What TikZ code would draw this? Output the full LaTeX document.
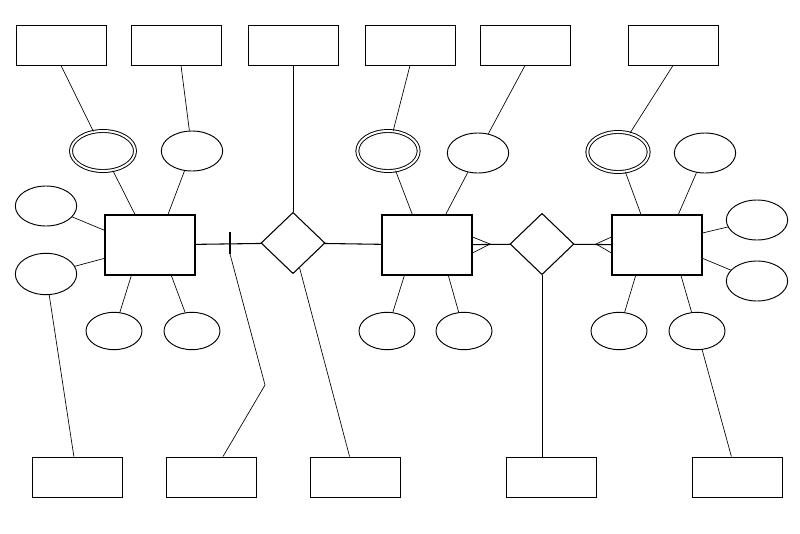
\documentclass[tikz,border=0pt]{standalone}
\usetikzlibrary{shapes.geometric}
\tikzset{
  attr/.style={draw, rectangle, minimum width=67.5pt, minimum height=30pt, inner sep=0pt, line width=0.7pt},
  ent/.style={draw, rectangle, minimum width=67.5pt, minimum height=45pt, inner sep=0pt, line width=0.8pt},
  prop/.style={draw, ellipse, minimum width=46pt, minimum height=30pt, inner sep=0pt, line width=0.7pt},
  keyprop/.style={prop, double, double distance=1.5pt},
  rel/.style={draw, diamond, minimum width=48pt, minimum height=46pt, inner sep=0pt, line width=0.8pt},
  link/.style={draw, line width=0.5pt}
}
\begin{document}
\begin{tikzpicture}[x=0.75pt,y=-0.75pt]
  \useasboundingbox (0,0) rectangle (800,533);

  % top boxes
  \node[attr] (t1) at (61,45) {};
  \node[attr] (t2) at (176,45) {};
  \node[attr] (t3) at (293,45) {};
  \node[attr] (t4) at (410,45) {};
  \node[attr] (t5) at (525,45) {};
  \node[attr] (t6) at (673,45) {};

  % bottom boxes
  \node[attr] (b1) at (77,477) {};
  \node[attr] (b2) at (211,477) {};
  \node[attr] (b3) at (355,477) {};
  \node[attr] (b4) at (551,477) {};
  \node[attr] (b5) at (737,477) {};

  % entities and relations
  \node[ent] (e1) at (150,245) {};
  \node[ent] (e2) at (427,245) {};
  \node[ent] (e3) at (657,245) {};
  \node[rel] (r1) at (293,243) {};
  \node[rel] (r2) at (542,244) {};

  % properties
  \node[keyprop, minimum width=48pt] (p1) at (103,151) {};
  \node[prop] (p2) at (192,151) {};
  \node[prop] (p3) at (46,206) {};
  \node[prop, minimum height=31pt] (p4) at (46,274) {};
  \node[prop, minimum width=42pt, minimum height=28pt] (p5) at (114,331) {};
  \node[prop, minimum width=42pt, minimum height=28pt] (p6) at (192,331) {};
  \node[keyprop] (p7) at (388,151) {};
  \node[prop] (p8) at (478,153) {};
  \node[prop, minimum width=42pt, minimum height=28pt] (p9) at (387,331) {};
  \node[prop, minimum width=42pt, minimum height=28pt] (p10) at (464,331) {};
  \node[keyprop] (p11) at (618,152) {};
  \node[prop] (p12) at (705,153) {};
  \node[prop] (p13) at (757,220) {};
  \node[prop] (p14) at (757,281) {};
  \node[prop, minimum width=42pt, minimum height=28pt] (p15) at (619,331) {};
  \node[prop, minimum width=42pt, minimum height=28pt] (p16) at (697,331) {};

  % property links
  \draw[link] (p1) -- ([xshift=-11.25pt]e1.north);
  \draw[link] (p2) -- ([xshift=13.5pt]e1.north);
  \draw[link] (p3) -- ([yshift=11pt]e1.west);
  \draw[link] (p4) -- ([yshift=-10pt]e1.west);
  \draw[link] (p5) -- ([xshift=-14pt]e1.south);
  \draw[link] (p6) -- ([xshift=16pt]e1.south);
  \draw[link] (p7) -- ([xshift=-11pt]e2.north);
  \draw[link] (p8) -- ([xshift=14pt]e2.north);
  \draw[link] (p9) -- ([xshift=-17pt]e2.south);
  \draw[link] (p10) -- ([xshift=16pt]e2.south);
  \draw[link] (p11) -- ([xshift=-12pt]e3.north);
  \draw[link] (p12) -- ([xshift=16pt]e3.north);
  \draw[link] (p13) -- ([yshift=9pt]e3.east);
  \draw[link] (p14) -- ([yshift=-10pt]e3.east);
  \draw[link] (p15) -- ([xshift=-16pt]e3.south);
  \draw[link] (p16) -- ([xshift=18pt]e3.south);

  % box links
  \draw[link] (t1.south) -- (p1);
  \draw[link] ([xshift=3.75pt]t2.south) -- (p2);
  \draw[link] (t3) -- (r1);
  \draw[link] (t4.south) -- (p7);
  \draw[link] (t5.south) -- (p8);
  \draw[link] (t6.south) -- (p11);
  \draw[link] (p4) -- (b1);
  \draw[link] (r1) -- (b3);
  \draw[link] (r2.south) -- (r2.south |- b4.north);
  \draw[link] (p16) -- (b5);

  % relationships
  \coordinate (tick) at (230,243);
  \coordinate (bend) at (265,385);
  \draw[line width=0.8pt] (e1) -- (r1) -- (e2);
  \draw[line width=0.8pt] ([yshift=8.25pt]tick) -- ([yshift=-8.25pt]tick);
  \draw[link] ([yshift=-8.25pt]tick) -- (bend) -- (b2);
  \draw[line width=0.8pt] (e2) -- (r2) -- (e3);
  \coordinate (fork2) at (490,244);
  \coordinate (fork3) at (596,244);
  \draw[link] ([yshift=6pt]e2.east) -- (fork2) -- ([yshift=-6pt]e2.east);
  \draw[link] ([yshift=6pt]e3.west) -- (fork3) -- ([yshift=-6pt]e3.west);
\end{tikzpicture}
\end{document}
